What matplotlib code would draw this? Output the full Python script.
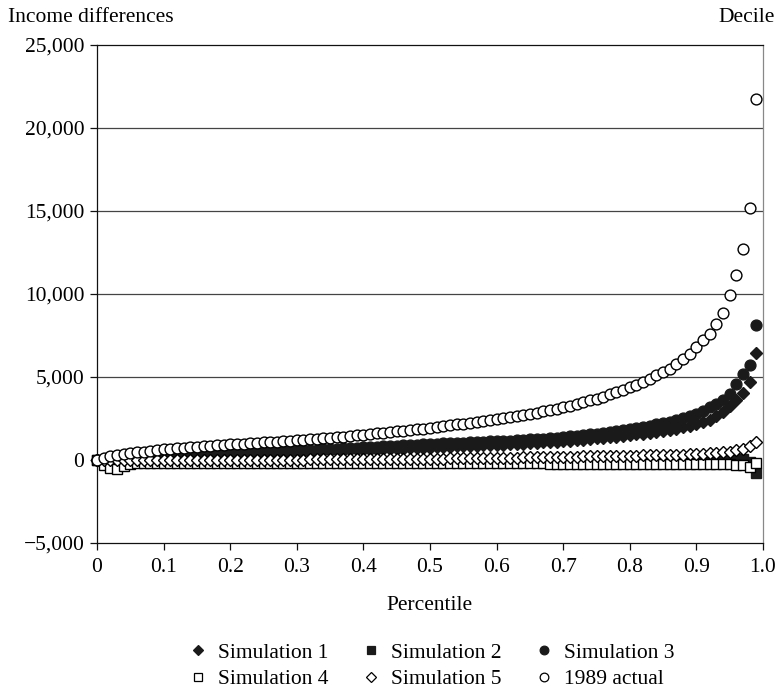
import numpy as np
import matplotlib
matplotlib.use("Agg")
import matplotlib.pyplot as plt
from matplotlib.ticker import FuncFormatter, FixedLocator
from matplotlib.lines import Line2D

plt.rcParams['font.family'] = ['Liberation Serif', 'DejaVu Serif']

# Percentile grid (0.00 ... 0.99)
percentile = np.round(np.arange(0, 100) / 100, 2)

sim1 = [0, 30, 60, 90, 110, 130, 150, 170, 190, 200,
        220, 230, 250, 260, 280, 290, 300, 320, 330, 340,
        360, 370, 380, 390, 400, 420, 430, 440, 450, 460,
        470, 490, 500, 510, 520, 540, 550, 560, 580, 590,
        600, 620, 630, 650, 660, 680, 690, 710, 720, 740,
        750, 770, 780, 800, 820, 830, 850, 870, 880, 900,
        920, 930, 950, 970, 990, 1010, 1030, 1060, 1080, 1110,
        1140, 1170, 1200, 1230, 1260, 1300, 1330, 1370, 1410, 1450,
        1500, 1540, 1590, 1640, 1690, 1750, 1810, 1880, 1960, 2050,
        2160, 2290, 2430, 2650, 2900, 3230, 3630, 4040, 4700, 6470]

sim2 = [0, -150, -250, -280, -200, -120, -100, -100, -100, -100,
        -100, -100, -100, -100, -100, -100, -100, -100, -100, -100,
        -100, -100, -100, -100, -100, -100, -100, -100, -100, -100,
        -100, -100, -100, -100, -100, -100, -100, -100, -100, -100,
        -100, -100, -100, -100, -100, -100, -100, -100, -100, -100,
        -100, -100, -100, -100, -100, -100, -100, -100, -100, -100,
        -100, -100, -100, -100, -100, -100, -100, -100, -100, -100,
        -100, -100, -100, -100, -100, -100, -100, -100, -100, -100,
        -100, -100, -100, -100, -100, -80, -60, -40, -20, 0,
        20, 40, 60, 80, 100, 100, 80, 40, -150, -760]

sim3 = [0, 40, 80, 110, 140, 160, 180, 200, 220, 240,
        260, 280, 300, 320, 330, 350, 370, 380, 400, 420,
        430, 450, 460, 480, 490, 500, 520, 530, 550, 560,
        580, 600, 610, 630, 650, 670, 680, 700, 720, 740,
        760, 780, 800, 820, 840, 860, 880, 900, 930, 950,
        970, 990, 1000, 1020, 1040, 1050, 1070, 1080, 1100, 1120,
        1130, 1150, 1170, 1190, 1210, 1240, 1260, 1290, 1320, 1350,
        1380, 1420, 1460, 1500, 1540, 1590, 1630, 1680, 1730, 1790,
        1850, 1920, 1990, 2060, 2140, 2220, 2310, 2410, 2520, 2650,
        2800, 2980, 3180, 3400, 3630, 3980, 4590, 5200, 5740, 8120]

sim4 = [0, -300, -470, -520, -360, -230, -190, -180, -170, -170,
        -170, -170, -170, -170, -170, -170, -170, -170, -170, -170,
        -170, -170, -170, -170, -170, -170, -170, -170, -170, -170,
        -170, -170, -170, -170, -170, -170, -170, -170, -170, -170,
        -170, -170, -170, -170, -170, -170, -170, -170, -170, -170,
        -170, -170, -170, -170, -170, -170, -170, -170, -170, -170,
        -170, -170, -170, -170, -170, -170, -170, -170, -240, -240,
        -240, -240, -240, -240, -240, -240, -240, -240, -240, -240,
        -240, -240, -240, -240, -240, -240, -240, -240, -240, -240,
        -240, -240, -240, -240, -240, -260, -280, -320, -420, -200]

sim5 = [0, 0, 10, 10, 10, 10, 10, 10, 10, 10,
        10, 10, 10, 20, 20, 20, 20, 20, 20, 20,
        20, 20, 20, 20, 30, 30, 30, 30, 30, 30,
        30, 30, 40, 40, 40, 40, 40, 50, 50, 50,
        50, 50, 60, 60, 60, 70, 70, 70, 80, 80,
        80, 90, 90, 100, 100, 110, 110, 120, 120, 130,
        130, 140, 140, 150, 160, 160, 170, 180, 180, 190,
        200, 200, 210, 220, 220, 230, 240, 240, 250, 260,
        260, 270, 280, 290, 290, 300, 310, 320, 330, 350,
        360, 380, 400, 430, 460, 510, 580, 680, 860, 1080]

actual_1989 = [0, 130, 220, 290, 350, 410, 460, 510, 560, 600,
               640, 670, 700, 730, 760, 790, 820, 850, 880, 910,
               940, 960, 990, 1010, 1040, 1060, 1090, 1110, 1140, 1160,
               1190, 1220, 1250, 1280, 1310, 1340, 1370, 1400, 1440, 1480,
               1520, 1560, 1600, 1640, 1680, 1720, 1760, 1800, 1840, 1890,
               1940, 1990, 2040, 2090, 2140, 2190, 2240, 2300, 2350, 2410,
               2470, 2530, 2590, 2650, 2720, 2790, 2860, 2940, 3020, 3100,
               3190, 3280, 3380, 3480, 3590, 3700, 3820, 3950, 4080, 4220,
               4370, 4530, 4700, 4900, 5110, 5320, 5500, 5800, 6080, 6400,
               6810, 7210, 7610, 8220, 8870, 9920, 11130, 12740, 15200, 21760]

series_labels = ["Simulation 1", "Simulation 2", "Simulation 3",
                 "Simulation 4", "Simulation 5", "1989 actual"]

y_ticks = [-5000, 0, 5000, 10000, 15000, 20000, 25000]
x_ticks = [0, 0.1, 0.2, 0.3, 0.4, 0.5, 0.6, 0.7, 0.8, 0.9, 1.0]
x_tick_labels = ["0", "0.1", "0.2", "0.3", "0.4", "0.5", "0.6", "0.7", "0.8", "0.9", "1.0"]

FS = 15.5
fig = plt.figure(figsize=(7.81, 6.94), dpi=100)
ax = fig.add_axes([97 / 781, 1 - 543 / 694, 666 / 781, 498 / 694])

styles = [
    dict(marker='D', ms=6.4, mfc='#1a1a1a', mec='#1a1a1a'),
    dict(marker='s', ms=7.0, mfc='#1a1a1a', mec='#1a1a1a'),
    dict(marker='o', ms=7.8, mfc='#1a1a1a', mec='#1a1a1a'),
    dict(marker='s', ms=7.0, mfc='white', mec='black'),
    dict(marker='D', ms=6.4, mfc='white', mec='black'),
    dict(marker='o', ms=7.8, mfc='white', mec='black'),
]
data = [sim1, sim2, sim3, sim4, sim5, actual_1989]

for i, (vals, st) in enumerate(zip(data, styles)):
    ax.plot(percentile, vals, linestyle='none', mew=1.0, clip_on=False,
            zorder=3 + i, **st)

ax.set_xlim(0, 1.0)
ax.set_ylim(-5000, 25000)
ax.xaxis.set_major_locator(FixedLocator(x_ticks))
ax.set_xticklabels(x_tick_labels)
ax.yaxis.set_major_locator(FixedLocator(y_ticks))


def fmt(v, pos):
    s = f"{abs(int(v)):,}"
    return ("\u2212" + s) if v < 0 else s


ax.yaxis.set_major_formatter(FuncFormatter(fmt))

for y in [5000, 10000, 15000, 20000]:
    ax.axhline(y, color='#444444', lw=0.9, zorder=1)

for side in ['left', 'bottom', 'top']:
    ax.spines[side].set_color('#111111')
    ax.spines[side].set_linewidth(0.9)
ax.spines['right'].set_color('#888888')
ax.spines['right'].set_linewidth(0.9)

ax.tick_params(axis='both', direction='out', length=5, width=0.9,
               color='#111111', labelsize=FS)
ax.tick_params(axis='x', pad=6)
ax.tick_params(axis='y', pad=4)

fig.text(8 / 781, 1 - 18 / 694, "Income differences", fontsize=FS,
         ha='left', va='center')
fig.text(775 / 781, 1 - 18 / 694, "Decile", fontsize=FS,
         ha='right', va='center')
fig.text(430 / 781, 1 - 605 / 694, "Percentile", fontsize=FS,
         ha='center', va='center')

handles = [Line2D([], [], linestyle='none', mew=0.9, **st) for st in styles]
order = [0, 3, 1, 4, 2, 5]
fig.legend([handles[i] for i in order], [series_labels[i] for i in order],
           ncol=3, loc='center', bbox_to_anchor=(432 / 781, 1 - 666 / 694),
           frameon=False, fontsize=FS, handlelength=0.8, handletextpad=0.5,
           columnspacing=1.6, labelspacing=0.3, markerscale=0.8)

fig.savefig("out.png", dpi=100)
